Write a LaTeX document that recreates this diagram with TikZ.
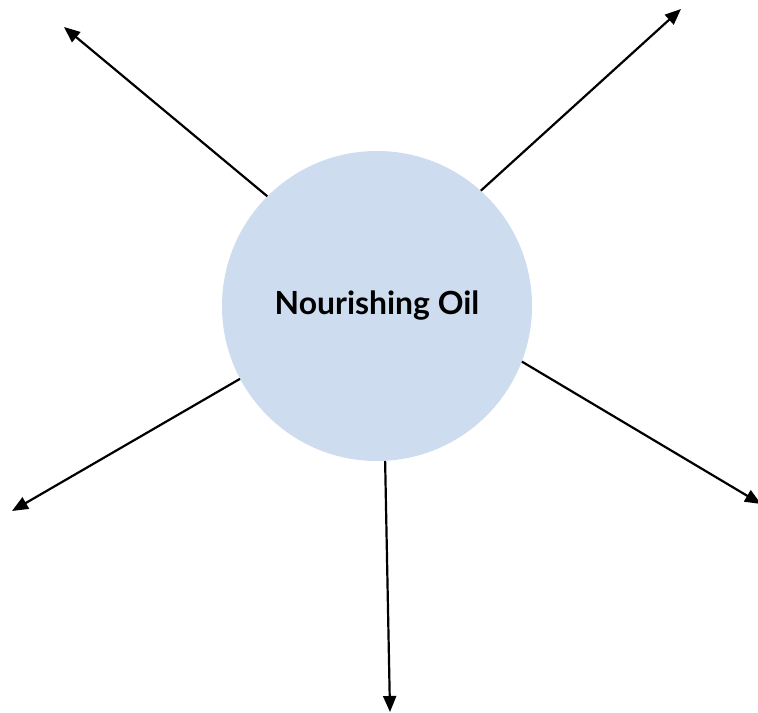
\documentclass[tikz,border=0pt]{standalone}
\usepackage{fontspec}
\setmainfont{Lato}
\usetikzlibrary{arrows.meta}
\definecolor{bubble}{HTML}{CDDCEF}
\begin{document}
\begin{tikzpicture}[x=1bp,y=-1bp,
  hub/.style={circle,fill=bubble,minimum size=310bp,inner sep=0pt,font=\bfseries\fontsize{32}{36}\selectfont},
  spoke/.style={line width=2.2bp,-{Triangle[length=16bp,width=13bp]}}]
\useasboundingbox (0,0) rectangle (758,713);
\node[hub] (c) at (377,306) {Nourishing Oil};
\coordinate (t1) at (64,27);
\coordinate (t2) at (681,9);
\coordinate (t3) at (12,511);
\coordinate (t4) at (761,504);
\coordinate (t5) at (390,712);
\draw[spoke] (c.135.8) -- (t1);
\draw[spoke] (c.48.9) -- (t2);
\draw[spoke] (c.208.4) -- (t3);
\draw[spoke] (c.339) -- (t4);
\draw[spoke] (c.273) -- (t5);
\end{tikzpicture}
\end{document}
